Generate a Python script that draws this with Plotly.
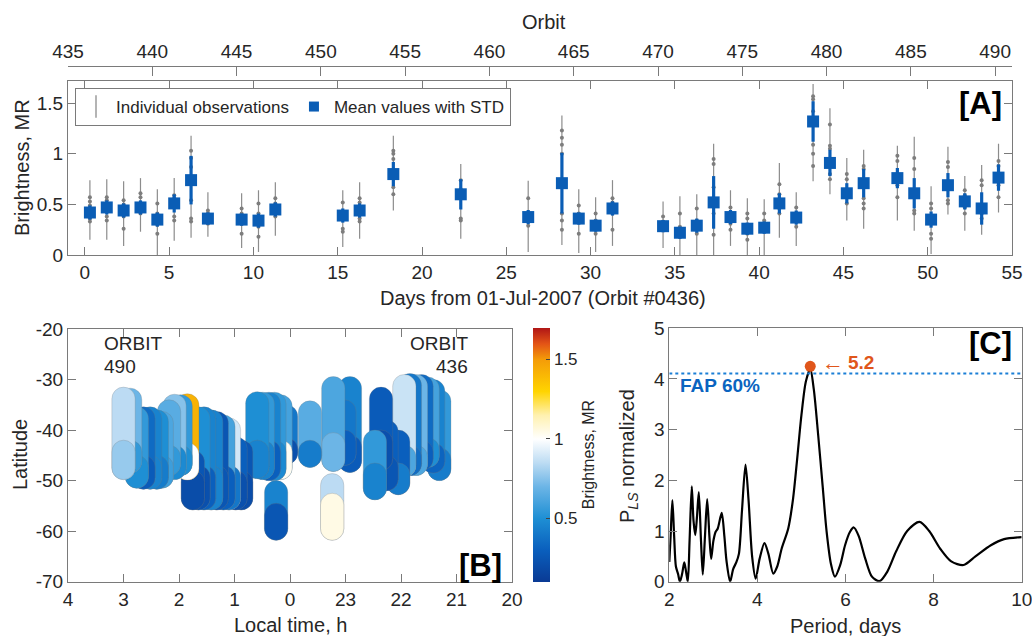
import plotly.graph_objects as go

FONT = "Liberation Sans, Arial, sans-serif"
W, H = 1032, 636

# ---------------- Panel A data ----------------
days = [0.3, 1.3, 2.3, 3.3, 4.3, 5.3, 6.3, 7.3, 9.3, 10.3, 11.3, 15.3, 16.3, 18.3, 22.3,
        26.3, 28.3, 29.3, 30.3, 31.3, 34.3, 35.3, 36.3, 37.3, 38.3, 39.3, 40.3, 41.2, 42.2,
        43.2, 44.2, 45.2, 46.2, 48.2, 49.2, 50.2, 51.2, 52.2, 53.2, 54.2]
mean_val = [0.42, 0.47, 0.44, 0.47, 0.35, 0.51, 0.74, 0.36, 0.35, 0.34, 0.45, 0.39, 0.44, 0.80, 0.60,
            0.375, 0.71, 0.36, 0.29, 0.46, 0.285, 0.22, 0.29, 0.52, 0.375, 0.26, 0.27, 0.51, 0.37,
            1.32, 0.91, 0.61, 0.71, 0.76, 0.61, 0.35, 0.69, 0.53, 0.46, 0.765]
std_val = [0.07, 0.07, 0.07, 0.07, 0.07, 0.09, 0.24, 0.06, 0.06, 0.07, 0.07, 0.07, 0.07, 0.12, 0.15,
           0.07, 0.30, 0.06, 0.06, 0.07, 0.06, 0.06, 0.07, 0.26, 0.07, 0.06, 0.06, 0.10, 0.07,
           0.20, 0.13, 0.10, 0.14, 0.10, 0.15, 0.08, 0.12, 0.08, 0.16, 0.13]
obs_lo = [0.15, 0.15, 0.09, 0.23, 0.0, 0.14, 0.17, 0.18, 0.07, 0.03, 0.19, 0.08, 0.16, 0.44, 0.16,
          0.03, 0.10, 0.02, 0.03, 0.09, 0.07, 0.0, 0.0, 0.0, 0.09, 0.0, 0.0, 0.17, 0.09,
          0.73, 0.60, 0.34, 0.26, 0.34, 0.24, 0.01, 0.40, 0.24, 0.20, 0.42]
obs_hi = [0.74, 0.75, 0.73, 0.76, 0.65, 0.76, 1.18, 0.62, 0.61, 0.64, 0.72, 0.64, 0.72, 1.18, 0.90,
          0.735, 1.38, 0.65, 0.57, 0.74, 0.53, 0.58, 0.60, 1.10, 0.64, 0.56, 0.55, 0.91, 0.62,
          1.69, 1.45, 0.96, 1.04, 1.08, 1.17, 0.68, 1.07, 0.78, 0.89, 1.10]
obs_vals = [
    [0.57, 0.53, 0.49, 0.36, 0.33], [0.57, 0.54, 0.50, 0.38, 0.34], [0.54, 0.50, 0.38, 0.26],
    [0.61, 0.57, 0.51, 0.41], [0.51, 0.41, 0.30, 0.21], [0.59, 0.56, 0.38, 0.34],
    [1.03, 0.96, 0.87, 0.54, 0.36, 0.33], [0.44, 0.41, 0.34, 0.31], [0.46, 0.41, 0.31, 0.21],
    [0.51, 0.41, 0.28, 0.18], [0.56, 0.51, 0.38], [0.52, 0.38, 0.26, 0.23],
    [0.56, 0.52, 0.36, 0.33], [1.03, 1.00, 0.95, 0.67, 0.60], [0.74, 0.65, 0.36, 0.34],
    [0.56, 0.41, 0.29], [1.23, 1.16, 1.09, 1.00, 0.41, 0.34, 0.25], [0.49, 0.41, 0.21],
    [0.41, 0.34, 0.21], [0.56, 0.52, 0.41, 0.25], [0.38, 0.33, 0.25], [0.41, 0.28, 0.18],
    [0.46, 0.34, 0.21], [0.95, 0.90, 0.67, 0.41, 0.20], [0.47, 0.42, 0.31, 0.25],
    [0.41, 0.36, 0.21, 0.15], [0.41, 0.34, 0.25], [0.70, 0.60, 0.46, 0.41], [0.47, 0.41, 0.28],
    [1.57, 1.54, 1.42, 1.09, 1.00, 0.88], [1.29, 1.08, 1.05, 0.80, 0.75], [0.80, 0.75, 0.57, 0.51],
    [0.88, 0.85, 0.56, 0.51, 0.46], [0.98, 0.93, 0.69, 0.57], [0.96, 0.85, 0.44, 0.41],
    [0.51, 0.46, 0.21, 0.16], [0.92, 0.87, 0.54, 0.51], [0.64, 0.59, 0.47, 0.41],
    [0.74, 0.69, 0.41, 0.36], [0.93, 0.88, 0.69, 0.57]]
day_ticks = list(range(0, 56, 5))
orbit_ticks = list(range(435, 491, 5))
bright_ticks = [0, 0.5, 1, 1.5]
bright_ticktext = ["0", "0.5", "1", "1.5"]

# ---------------- Panel B data (tracks: local time, lat top, lat split, lat bottom, brightness) ----
col_lt = [21.31, 21.42, 21.52, 21.63, 21.73, 21.84, 21.94, 22.05, 22.26, 22.36, 22.47,
          22.92, 23.02, 23.22, 23.24, 23.64, 0.07, 0.17, 0.25, 0.28, 0.38, 0.49, 0.59,
          0.88, 0.98, 1.10, 1.20, 1.32, 1.42, 1.55, 1.65, 1.75, 1.85, 1.97, 2.08, 2.18,
          2.31, 2.40, 2.52, 2.64, 2.76, 2.88, 3.00]
col_top = [-32.0, -30.0, -29.5, -29.0, -29.0, -28.8, -29.0, -40.0, -38.0, -31.5, -40.0,
           -29.4, -34.0, -29.4, -48.6, -34.2, -35.0, -33.0, -50.0, -32.5, -32.5, -32.5, -32.4,
           -42.0, -41.3, -37.6, -37.0, -36.3, -36.0, -35.4, -35.4, -44.0, -32.8, -33.0, -32.9, -34.0,
           -36.3, -36.0, -35.4, -35.4, -35.4, -31.7, -31.5]
col_split = [-43.5, -42.5, -41.5, -42.0, -43.0, -43.0, -43.0, -46.5, -45.0, -40.0, -46.5,
             -41.0, -40.0, -40.5, -52.5, -42.0, -41.5, -42.0, -54.5, -42.0, -42.0, -42.0, -42.0,
             -48.0, -48.0, -47.0, -47.0, -47.0, -47.0, -47.0, -47.0, -48.0, -42.5, -43.0, -43.0, -43.0,
             -45.0, -45.0, -45.0, -45.0, -45.0, -42.0, -42.0]
col_bottom = [-50.0, -48.5, -47.4, -48.0, -49.0, -49.0, -49.3, -52.8, -52.0, -48.0, -53.8,
              -48.4, -47.0, -48.2, -61.8, -47.4, -46.8, -49.8, -61.8, -50.0, -50.0, -49.8, -49.6,
              -55.8, -55.8, -55.8, -55.8, -55.8, -55.8, -55.8, -55.8, -55.8, -49.9, -49.0, -49.8, -49.0,
              -51.5, -51.7, -51.7, -51.7, -51.5, -48.5, -49.8]
col_val_upper = [0.55, 0.45, 0.60, 0.35, 0.70, 0.40, 0.88, 0.30, 0.30, 0.28, 0.55,
                 0.45, 0.40, 0.62, 0.85, 0.65, 0.40, 0.60, 0.45, 0.55, 0.45, 0.55, 0.50,
                 0.25, 0.30, 0.90, 0.60, 0.25, 0.45, 0.45, 0.50, 0.25, 1.42, 0.55, 0.75, 0.65,
                 0.62, 0.50, 0.45, 0.35, 0.55, 0.70, 0.85]
col_val_lower = [0.42, 0.32, 0.50, 0.30, 0.62, 0.36, 0.62, 0.42, 0.25, 0.22, 0.45,
                 0.28, 0.30, 0.70, 1.05, 0.42, 0.22, 1.02, 0.25, 0.48, 0.30, 0.45, 0.45,
                 0.20, 0.22, 0.40, 0.30, 0.25, 0.45, 0.30, 0.22, 0.20, 1.00, 0.50, 0.48, 0.55,
                 0.58, 0.42, 0.45, 0.28, 0.50, 0.55, 0.78]
lt_tickvals = [4, 3, 2, 1, 0, -1, -2, -3, -4]
lt_ticktext = ["4", "3", "2", "1", "0", "23", "22", "21", "20"]
lat_ticks = [-20, -30, -40, -50, -60, -70]
lat_ticktext = ["-20", "-30", "-40", "-50", "-60", "-70"]

# ---------------- Panel C data ----------------
period = [2.00, 2.03, 2.07, 2.11, 2.15, 2.20, 2.24, 2.29, 2.34, 2.38, 2.42, 2.46, 2.51, 2.55, 2.59,
          2.63, 2.67, 2.72, 2.76, 2.81, 2.86, 2.91, 2.95, 3.00, 3.05, 3.10, 3.19, 3.25, 3.30, 3.38,
          3.45, 3.52, 3.58, 3.65, 3.73, 3.80, 3.88, 3.96, 4.05, 4.16, 4.25, 4.36, 4.45, 4.55, 4.70,
          4.81, 4.90, 5.00, 5.10, 5.20, 5.28, 5.38, 5.48, 5.57, 5.67, 5.76, 5.88, 5.99, 6.10, 6.19,
          6.30, 6.45, 6.60, 6.77, 6.95, 7.15, 7.40, 7.68, 7.90, 8.15, 8.40, 8.68, 8.95, 9.30, 9.60,
          10.00]
power = [0.39, 0.90, 1.61, 0.90, 0.30, 0.15, 0.00, 0.15, 0.38, 0.20, 0.00, 0.80, 1.88, 1.20, 0.92,
         1.30, 1.77, 0.80, 0.14, 0.90, 1.63, 0.90, 0.45, 0.80, 0.98, 1.05, 1.36, 0.90, 0.40, 0.00,
         0.25, 0.38, 0.55, 1.40, 2.31, 1.60, 0.50, 0.06, 0.45, 0.76, 0.55, 0.16, 0.30, 0.65, 1.05,
         1.64, 2.40, 3.29, 3.95, 4.20, 3.80, 2.89, 1.90, 1.00, 0.35, 0.10, 0.33, 0.72, 0.98, 1.07,
         0.90, 0.45, 0.10, 0.01, 0.20, 0.60, 1.00, 1.18, 1.00, 0.65, 0.40, 0.33, 0.50, 0.72, 0.84,
         0.88]
fap_level = 4.11
peak_period = [5.2]
peak_power = [4.25]
per_ticks = [2, 4, 6, 8, 10]
pow_ticks = [0, 1, 2, 3, 4, 5]

# ---------------- styling ----------------
GRAY_AX = "#7a7a7a"
TXT = "#262626"
BLUE = "#0a5db5"
OBS_GRAY = "#8c8c8c"


def px_x(p):
    return p / W


def px_y(p):
    return 1 - p / H


def axis(**kw):
    d = dict(showline=True, linecolor=GRAY_AX, linewidth=1, mirror="ticks", ticks="inside",
             ticklen=8, tickcolor=GRAY_AX, showgrid=False, zeroline=False, automargin=False,
             ticklabeloverflow="allow",
             tickfont=dict(family=FONT, size=19, color=TXT))
    d.update(kw)
    return d


fig = go.Figure()

# Panel A: individual-observation ranges (gray thin bars)
fig.add_trace(go.Scatter(
    x=days, y=mean_val, mode="markers", marker=dict(size=1, color=OBS_GRAY),
    error_y=dict(type="data", symmetric=False,
                 array=[h - m for h, m in zip(obs_hi, mean_val)],
                 arrayminus=[m - l for m, l in zip(mean_val, obs_lo)],
                 color=OBS_GRAY, thickness=1.2, width=0),
    showlegend=False, hoverinfo="skip", xaxis="x", yaxis="y"))
# individual observation dots
dx, dy = [], []
for d, vals in zip(days, obs_vals):
    for v in vals:
        dx.append(d)
        dy.append(v)
fig.add_trace(go.Scatter(x=dx, y=dy, mode="markers",
                         marker=dict(size=4, color="#7d7d7d"),
                         showlegend=False, xaxis="x", yaxis="y"))
# means with STD
fig.add_trace(go.Scatter(
    x=days, y=mean_val, mode="markers",
    marker=dict(symbol="square", size=12, color=BLUE),
    error_y=dict(type="data", array=std_val, color=BLUE, thickness=3.2, width=0),
    showlegend=False, xaxis="x", yaxis="y"))
# legend entries
fig.add_trace(go.Scatter(x=[None], y=[None], mode="markers", name="Individual observations",
                         marker=dict(symbol="line-ns", size=18, color=OBS_GRAY,
                                     line=dict(width=1.3, color=OBS_GRAY)),
                         xaxis="x", yaxis="y"))
fig.add_trace(go.Scatter(x=[None], y=[None], mode="markers", name="Mean values with STD",
                         marker=dict(symbol="square", size=10, color=BLUE),
                         xaxis="x", yaxis="y"))
# orbit axis helper (invisible, on top axis)
fig.add_trace(go.Scatter(x=[d + 436 for d in days], y=mean_val, mode="markers",
                         marker=dict(size=1, opacity=0), showlegend=False, hoverinfo="skip",
                         xaxis="x2", yaxis="y"))

# Panel B: tracks as capsules (bars with rounded corners)
bx, bbase, by, bc = [], [], [], []
for lt, t, s, b, vu, vl in zip(col_lt, col_top, col_split, col_bottom, col_val_upper, col_val_lower):
    xv = lt if lt < 12 else lt - 24
    for (tt, bb, vv) in [(t, b, vu), (s, b, vl)]:
        bx.append(xv)
        bbase.append(bb)
        by.append(tt - bb)
        bc.append(vv)
fig.add_trace(go.Bar(
    x=bx, y=by, base=bbase, width=0.42,
    marker=dict(color=bc, coloraxis="coloraxis", cornerradius="50%",
                line=dict(color="rgba(120,120,120,0.5)", width=0.5)),
    showlegend=False, hoverinfo="skip", xaxis="x3", yaxis="y3"))

# Panel C
fig.add_trace(go.Scatter(x=period, y=power, mode="lines",
                         line=dict(color="black", width=2.2, shape="spline", smoothing=0.8),
                         showlegend=False, xaxis="x4", yaxis="y4"))
fig.add_trace(go.Scatter(x=[per_ticks[0], per_ticks[-1]], y=[fap_level, fap_level], mode="lines",
                         line=dict(color="#1b7fd6", width=2, dash="dot"),
                         showlegend=False, xaxis="x4", yaxis="y4"))
fig.add_trace(go.Scatter(x=peak_period, y=peak_power, mode="markers",
                         marker=dict(size=11, color="#e0561b"),
                         showlegend=False, xaxis="x4", yaxis="y4"))

colorscale = [
    [0.0, "#0a3a94"], [0.125, "#0a5fbd"], [0.25, "#1e8fd4"], [0.375, "#6cb5e6"],
    [0.47, "#bddcf3"], [0.5625, "#ffffff"], [0.656, "#fff1b0"], [0.75, "#ffd400"],
    [0.875, "#f49c08"], [0.9375, "#e35416"], [1.0, "#b01616"]]

ann = []


def add_text(text, x, y, size=20, color=TXT, angle=0, bold=False, xanchor="center", yanchor="middle"):
    ann.append(dict(text=("<b>%s</b>" % text) if bold else text, x=px_x(x), y=px_y(y),
                    xref="paper", yref="paper", showarrow=False, textangle=angle,
                    xanchor=xanchor, yanchor=yanchor,
                    font=dict(family=FONT, size=size, color=color)))


add_text("Orbit", 544, 22)
add_text("Brightness, MR", 22, 168, angle=-90)
add_text("Days from 01-Jul-2007 (Orbit #0436)", 543, 298)
add_text("[A]", 980, 103, size=31, color="black", bold=True)
add_text("Latitude", 20, 455, angle=-90)
add_text("Local time, h", 290, 625)
add_text("[B]", 480, 565, size=31, color="black", bold=True)
add_text("ORBIT", 102, 343, size=19, xanchor="left")
add_text("490", 102, 366, size=19, xanchor="left")
add_text("ORBIT", 470, 343, size=19, xanchor="right")
add_text("436", 470, 366, size=19, xanchor="right")
add_text("P<sub><i>LS</i></sub> normalized", 629, 456, angle=-90)
add_text("Period, days", 845, 626)
add_text("[C]", 990, 343, size=31, color="black", bold=True)
add_text("FAP 60%", 678, 385, size=19, color="#0a64c0", bold=True, xanchor="left")
add_text("\u2190", 820, 362, size=22, color="#e0561b", xanchor="left")
add_text("5.2", 846, 362, size=19, color="#e0561b", bold=True, xanchor="left")

fig.update_layout(
    width=W, height=H, autosize=False,
    margin=dict(l=0, r=0, t=0, b=0, autoexpand=False),
    paper_bgcolor="white", plot_bgcolor="white",
    font=dict(family=FONT, size=19, color=TXT),
    barmode="overlay",
    showlegend=True,
    legend=dict(orientation="h", x=px_x(75), y=px_y(88), xanchor="left", yanchor="top",
                bordercolor=GRAY_AX, borderwidth=1, bgcolor="white",
                font=dict(family=FONT, size=17, color=TXT), itemwidth=30,
                tracegroupgap=0),
    xaxis=axis(domain=[px_x(68), px_x(1012)], range=[-1, 55], tickvals=day_ticks, anchor="y"),
    yaxis=axis(domain=[px_y(255), px_y(81)], range=[0, 1.72], tickvals=bright_ticks,
               ticktext=bright_ticktext, anchor="x"),
    xaxis2=dict(overlaying="x", side="top", anchor="free", position=px_y(66),
                range=[435, 491], tickvals=orbit_ticks, showline=True, linecolor=GRAY_AX,
                linewidth=1, ticks="inside", ticklen=9, tickcolor=GRAY_AX, showgrid=False,
                zeroline=False, automargin=False, tickfont=dict(family=FONT, size=19, color=TXT)),
    xaxis3=axis(domain=[px_x(68), px_x(512)], range=[4, -4], tickvals=lt_tickvals,
                ticktext=lt_ticktext, anchor="y3"),
    yaxis3=axis(domain=[px_y(581.7), px_y(329)], range=[-70, -20], tickvals=lat_ticks,
                ticktext=lat_ticktext, anchor="x3"),
    xaxis4=axis(domain=[px_x(669.3), px_x(1021.7)], range=[2, 10], tickvals=per_ticks, anchor="y4"),
    yaxis4=axis(domain=[px_y(581.7), px_y(328.3)], range=[0, 5], tickvals=pow_ticks, anchor="x4"),
    coloraxis=dict(
        colorscale=colorscale, cmin=0.1, cmax=1.7,
        colorbar=dict(x=px_x(532.7), xanchor="left", y=px_y(454.5), yanchor="middle",
                      len=254, lenmode="pixels", thickness=17, thicknessmode="pixels",
                      outlinewidth=0, xpad=0, ypad=0, ticks="inside", ticklen=4,
                      tickcolor="#444", tickvals=[0.5, 1, 1.5], ticktext=["0.5", "1", "1.5"],
                      tickfont=dict(family=FONT, size=17, color=TXT),
                      title=dict(text="Brightness, MR", side="right",
                                 font=dict(family=FONT, size=16, color=TXT)))),
    annotations=ann,
)

fig.write_html("out.html")
